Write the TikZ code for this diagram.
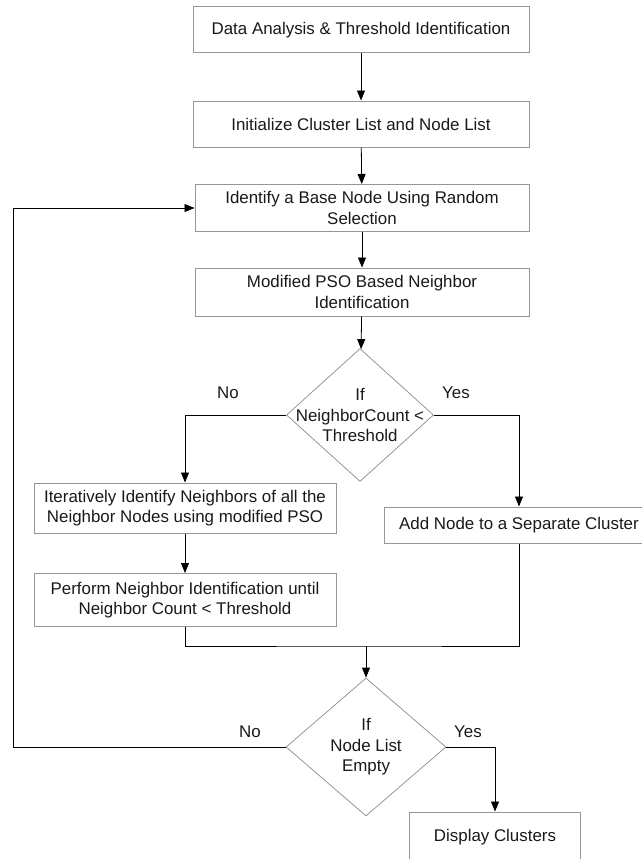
\documentclass[tikz,border=0pt]{standalone}
\usepackage{fontspec}
\setmainfont{Liberation Sans}
\usetikzlibrary{arrows.meta, positioning, shapes.geometric}
\definecolor{boxgray}{RGB}{150,150,150}
\definecolor{inkgray}{RGB}{25,25,25}

\begin{document}
\begin{tikzpicture}[
  x=1pt, y=-1pt,
  every node/.style={font=\fontsize{16.9}{20.5}\selectfont, text=inkgray},
  box/.style={draw=boxgray, line width=1pt, align=center, inner sep=2pt},
  decision/.style={draw=boxgray, line width=0.8pt, shape=diamond, inner sep=0pt},
  dtext/.style={align=center, inner sep=0pt},
  arrow/.style={-{Triangle[length=10pt, width=8pt]}, line width=0.8pt},
  link/.style={line width=0.8pt},
  answer/.style={inner sep=1pt}
]
\useasboundingbox (0,0) rectangle (641,859);

  % Steps
  \node[box, minimum width=336pt, minimum height=46pt] (data) at (361,30) {Data Analysis \& Threshold Identification};
  \node[box, minimum width=336pt, minimum height=46pt] (init) at (361,124) {Initialize Cluster List and Node List};
  \node[box, minimum width=334pt, minimum height=47pt] (base) at (362,208) {Identify a Base Node Using Random\\ Selection};
  \node[box, minimum width=334pt, minimum height=48pt] (pso) at (362,292) {Modified PSO Based Neighbor\\ Identification};

  % First decision
  \node[decision, minimum width=147pt, minimum height=133pt] (count) at (360,415) {};
  \node[dtext] (countq) at (count) {If\\ NeighborCount <\\ Threshold};
  \node[answer] (countno) at (228,393) {No};
  \node[answer] (countyes) at (456,393) {Yes};

  \node[box, minimum width=302pt, minimum height=50pt] (iter) at (185,508) {Iteratively Identify Neighbors of all the\\ Neighbor Nodes using modified PSO};
  \node[box, minimum width=302pt, minimum height=53pt] (perform) at (185,600) {Perform Neighbor Identification until\\ Neighbor Count < Threshold};
  \node[box, minimum width=270pt, minimum height=36pt] (add) at (519,525) {Add Node to a Separate Cluster};

  % Second decision
  \coordinate (join) at (366,646);
  \node[decision, minimum width=160pt, minimum height=138pt] (empty) at (366,747) {};
  \node[dtext] (emptyq) at (empty) {If\\ Node List\\ Empty};
  \node[answer] (emptyno) at (250,732) {No};
  \node[answer] (emptyyes) at (468,732) {Yes};
  \coordinate (loop) at (13,747);

  \node[box, minimum width=171pt, minimum height=50pt] (show) at (495,837) {Display Clusters};

  \draw[arrow] (data) -- (init);
  \draw[arrow] (init) -- (base);
  \draw[arrow] (base) -- (pso);
  \draw[arrow] (pso) -- (count);
  \draw[arrow] (count.west) -| (iter.north);
  \draw[arrow] (count.east) -| (add.north);
  \draw[arrow] (iter) -- (perform);
  \draw[link] (perform.south) |- (join) -| (add.south);
  \draw[arrow] (join) -- (empty.north);
  \draw[arrow] (empty.west) -- (loop) |- (base.west);
  \draw[arrow] (empty.east) -| (show.north);

\end{tikzpicture}
\end{document}
